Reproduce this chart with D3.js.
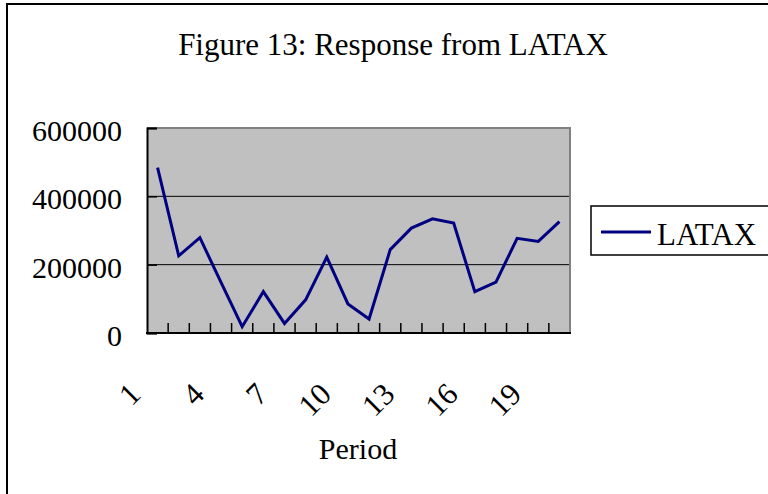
<!DOCTYPE html>
<html>
<head>
<meta charset="utf-8">
<script src="https://cdn.jsdelivr.net/npm/d3@7"></script>
<style>
  body { margin: 0; background: #fff; }
  text { font-family: "Liberation Serif", "DejaVu Serif", serif; fill: #000; }
</style>
</head>
<body>
<div id="chart"></div>
<script>
// data
var periods = [1, 2, 3, 4, 5, 6, 7, 8, 9, 10, 11, 12, 13, 14, 15, 16, 17, 18, 19, 20];
var latax = [484000, 226000, 279000, 148000, 18500, 121000, 28000, 97000, 222000, 85000,
             41000, 244000, 307000, 334000, 322000, 121000, 149000, 277000, 268000, 326000];
var xLabels = [1, 4, 7, 10, 13, 16, 19];
var yTicks = [0, 200000, 400000, 600000];
var seriesName = "LATAX";

var width = 768, height = 494;
var plot = {left: 147, right: 570, top: 128, bottom: 333};

var svg = d3.select("#chart").append("svg")
    .attr("width", width).attr("height", height);

// outer chart frame (runs off the right / bottom edges)
svg.append("rect")
    .attr("x", 7).attr("y", 4)
    .attr("width", 820).attr("height", 560)
    .attr("fill", "none").attr("stroke", "#000").attr("stroke-width", 2);

svg.append("text")
    .attr("x", 393).attr("y", 55)
    .attr("text-anchor", "middle")
    .attr("font-size", 31)
    .text("Figure 13: Response from LATAX");

var x = d3.scaleBand().domain(periods).range([plot.left, plot.right]).padding(0);
var y = d3.scaleLinear().domain([0, 600000]).range([plot.bottom, plot.top]);

// plot area
svg.append("rect")
    .attr("x", plot.left).attr("y", plot.top)
    .attr("width", plot.right - plot.left).attr("height", plot.bottom - plot.top)
    .attr("fill", "#c0c0c0");

// gridlines
svg.selectAll(".grid")
    .data(yTicks.filter(function(d){ return d > 0 && d < 600000; }))
    .enter().append("line")
    .attr("x1", plot.left).attr("x2", plot.right)
    .attr("y1", function(d){ return y(d); })
    .attr("y2", function(d){ return y(d); })
    .attr("stroke", "#000").attr("stroke-width", 1);

// gray border top/right
svg.append("path")
    .attr("d", "M" + plot.left + "," + plot.top + "H" + plot.right + "V" + plot.bottom)
    .attr("fill", "none").attr("stroke", "#808080").attr("stroke-width", 2);

// y axis
var yAxis = d3.axisLeft(y).tickValues(yTicks).tickSize(-10).tickPadding(25)
    .tickFormat(d3.format("d"));
var gy = svg.append("g").attr("transform", "translate(" + plot.left + ",0)").call(yAxis);
gy.select(".domain").attr("stroke", "#000").attr("stroke-width", 2);
gy.selectAll(".tick line").attr("stroke", "#000").attr("stroke-width", 1.5);
gy.selectAll(".tick text")
    .attr("font-size", 30)
    .attr("dy", "0.42em");

// x axis line + inner ticks at category boundaries
svg.append("line")
    .attr("x1", plot.left - 1).attr("x2", plot.right + 1)
    .attr("y1", plot.bottom).attr("y2", plot.bottom)
    .attr("stroke", "#000").attr("stroke-width", 2);

svg.selectAll(".xtick")
    .data(periods.slice(1))
    .enter().append("line")
    .attr("x1", function(d){ return x(d); })
    .attr("x2", function(d){ return x(d); })
    .attr("y1", plot.bottom).attr("y2", plot.bottom - 10)
    .attr("stroke", "#000").attr("stroke-width", 1.5);

svg.selectAll(".xlabel")
    .data(xLabels)
    .enter().append("text")
    .attr("text-anchor", "end")
    .attr("font-size", 31)
    .attr("transform", function(d){
        var cx = x(d) + x.bandwidth() / 2 - 15;
        return "translate(" + cx + ",396) rotate(-45)";
    })
    .text(function(d){ return d; });

svg.append("text")
    .attr("x", 358).attr("y", 459)
    .attr("text-anchor", "middle")
    .attr("font-size", 30)
    .text("Period");

// the series
var line = d3.line()
    .x(function(d, i){ return x(periods[i]) + x.bandwidth() / 2; })
    .y(function(d){ return y(d); });

svg.append("path")
    .datum(latax)
    .attr("d", line)
    .attr("fill", "none")
    .attr("stroke", "#000080")
    .attr("stroke-width", 3)
    .attr("stroke-linejoin", "miter");

// legend
var legend = svg.append("g").attr("transform", "translate(591,206)");
legend.append("rect")
    .attr("width", 220).attr("height", 49)
    .attr("fill", "#fff").attr("stroke", "#000").attr("stroke-width", 1.5);
legend.append("line")
    .attr("x1", 10).attr("x2", 60).attr("y1", 26).attr("y2", 26)
    .attr("stroke", "#000080").attr("stroke-width", 3);
legend.append("text")
    .attr("x", 66).attr("y", 39)
    .attr("font-size", 31)
    .attr("textLength", 99)
    .attr("lengthAdjust", "spacingAndGlyphs")
    .text(seriesName);
</script>
</body>
</html>
